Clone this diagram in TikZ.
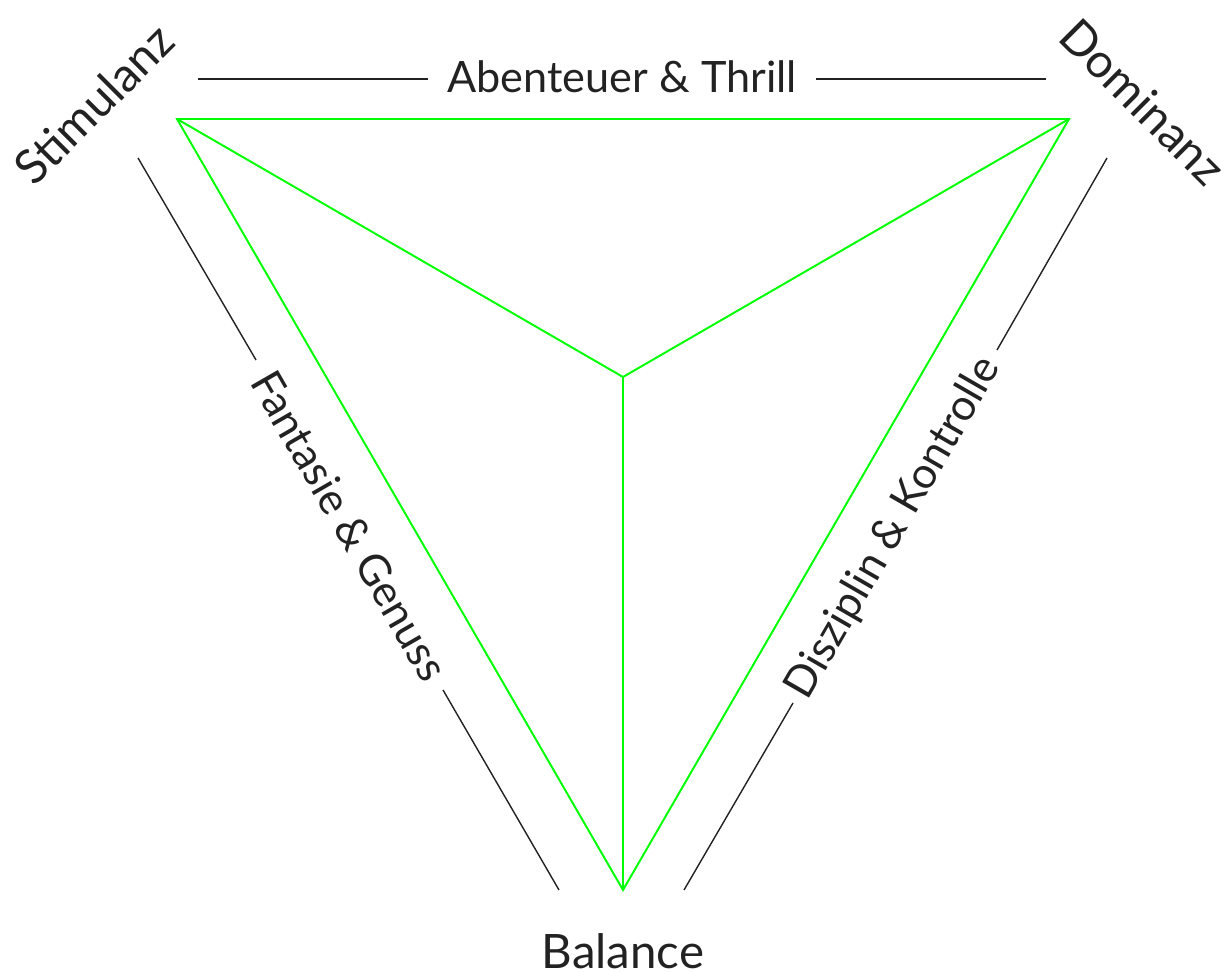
\documentclass[tikz,border=0pt]{standalone}
\usepackage{fontspec}
\setmainfont{Lato}
\definecolor{txt}{HTML}{222222}
\definecolor{grn}{HTML}{00FF00}
\tikzset{
  edge/.style={draw=grn, line width=1.1pt, line join=miter},
  rule/.style={draw=txt, line width=0.8pt},
  small/.style={text=txt, font=\fontsize{24.6}{28}\selectfont, inner sep=0pt},
  big/.style={text=txt, font=\fontsize{27}{32}\selectfont, inner sep=0pt}
}
\begin{document}
\begin{tikzpicture}[x=0.02cm,y=0.02cm]
\useasboundingbox (0,0) rectangle (1226,972);
% triangle
\coordinate (A) at (177,853);
\coordinate (B) at (1069,853);
\coordinate (C) at (623,82);
\coordinate (O) at (623,595);
\draw[edge] (A) -- (B) -- (C) -- cycle;
\draw[edge] (A) -- (O);
\draw[edge] (B) -- (O);
\draw[edge] (C) -- (O);
% rule lines
\coordinate (t1) at (198,893); \coordinate (t2) at (428,893);
\coordinate (t3) at (816,893); \coordinate (t4) at (1046,893);
\coordinate (l1) at (138,814); \coordinate (l2) at (256,612);
\coordinate (l3) at (443,282); \coordinate (l4) at (559,82);
\coordinate (r1) at (1107,814); \coordinate (r2) at (997,622);
\coordinate (r3) at (793,269); \coordinate (r4) at (684,82);
\draw[rule] (t1) -- (t2);
\draw[rule] (t3) -- (t4);
\draw[rule] (l1) -- (l2);
\draw[rule] (l3) -- (l4);
\draw[rule] (r1) -- (r2);
\draw[rule] (r3) -- (r4);
% labels
\node[small] (top) at (622,895) {Abenteuer \& Thrill};
\node[small, rotate=-60] (left) at (350,446) {Fantasie \& Genuss};
\node[small, rotate=60] (right) at (894,444) {Disziplin \& Kontrolle};
\node[big, rotate=45] (stim) at (94,868) {Stimulanz};
\node[big, rotate=-45] (dom) at (1143,870) {Dominanz};
\node[big] (bal) at (623,21) {Balance};
\end{tikzpicture}
\end{document}
